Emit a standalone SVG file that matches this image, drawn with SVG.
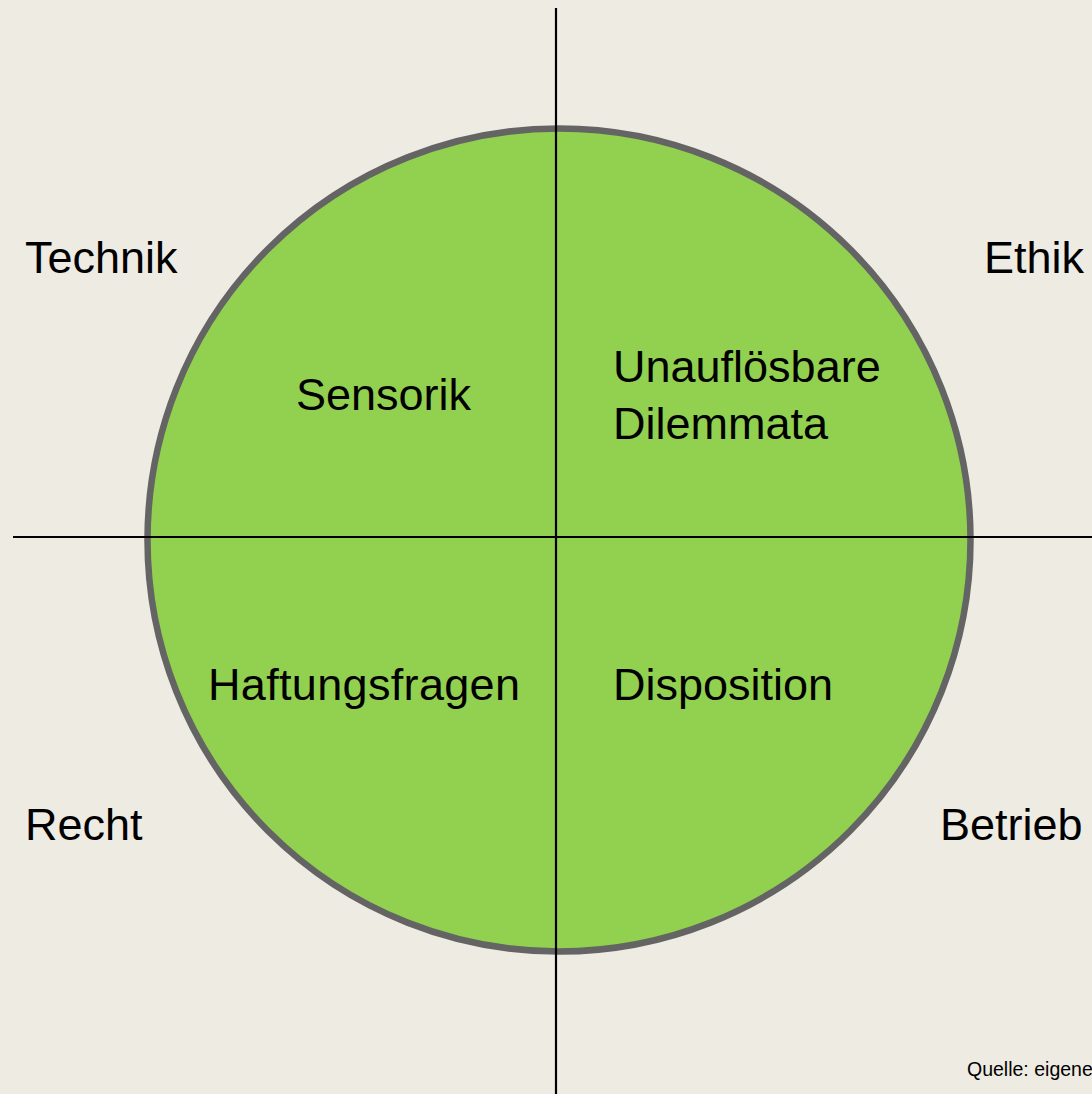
<svg xmlns="http://www.w3.org/2000/svg" width="1092" height="1094" viewBox="0 0 1092 1094">
<style>
.lbl{font-family:"Liberation Sans",Arial,sans-serif;font-size:45px;fill:#000}
.src{font-family:"Liberation Sans",Arial,sans-serif;font-size:19.5px;fill:#000}
.ax{stroke:#000;stroke-width:2.2;fill:none}
</style>
<rect width="1092" height="1094" fill="#EEEBE3"/>
<g id="circle">
<circle cx="559" cy="540" r="411.5" fill="#92D050" stroke="#646464" stroke-width="6.5"/>
</g>
<g id="connectors">
<line class="ax" x1="556" y1="8" x2="556" y2="1094"/>
<line class="ax" x1="13" y1="537" x2="1092" y2="537"/>
</g>
<g id="sensorik"><text class="lbl" x="296" y="410">Sensorik</text></g>
<g id="dilemmata"><text class="lbl" x="613" y="382">Unauflösbare</text><text class="lbl" x="613" y="439">Dilemmata</text></g>
<g id="haftung"><text class="lbl" x="208" y="700" textLength="312">Haftungsfragen</text></g>
<g id="disposition"><text class="lbl" x="613" y="700">Disposition</text></g>
<g id="technik"><text class="lbl" x="25" y="273">Technik</text></g>
<g id="ethik"><text class="lbl" x="984" y="273">Ethik</text></g>
<g id="recht"><text class="lbl" x="25" y="840">Recht</text></g>
<g id="betrieb"><text class="lbl" x="940" y="840">Betrieb</text></g>
<g id="quelle"><text class="src" x="967" y="1076">Quelle: eigene</text></g>
</svg>
